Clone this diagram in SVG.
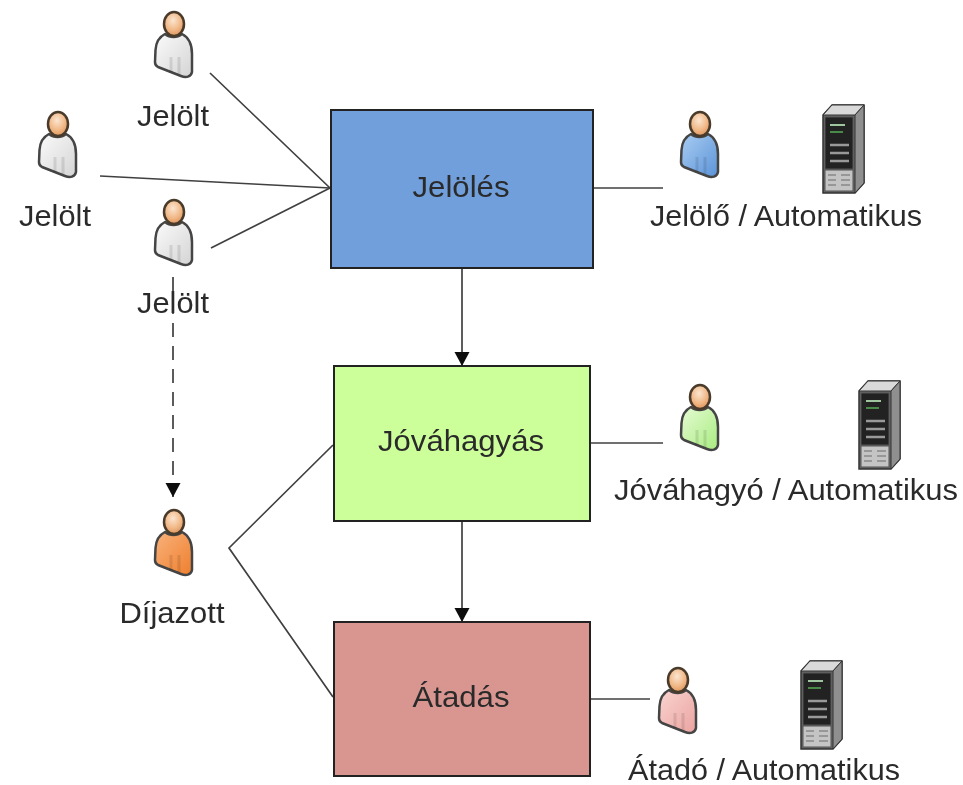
<svg xmlns="http://www.w3.org/2000/svg" width="963" height="785" viewBox="0 0 963 785">
<style>
text{font-family:"Liberation Sans",Arial,sans-serif;font-size:29px;fill:#2b2b2b;text-anchor:middle}
.box{stroke:#222;stroke-width:2}
.ln{stroke:#404040;stroke-width:1.700;fill:none}
</style>
<defs>
<filter id="soft" filterUnits="userSpaceOnUse" x="0" y="0" width="963" height="785"><feGaussianBlur stdDeviation="0.6"/></filter>
<marker id="ah" markerWidth="15" markerHeight="16" refX="14" refY="7.500" orient="auto" markerUnits="userSpaceOnUse"><path d="M0 0L14 7.500L0 15Z" fill="#111"/></marker>
<radialGradient id="head" cx="45%" cy="35%" r="70%"><stop offset="0" stop-color="#fbe6d0"/><stop offset=".6" stop-color="#f0b684"/><stop offset="1" stop-color="#d98f55"/></radialGradient>
<linearGradient id="g" x1="0" x2="1" y1="0" y2="1"><stop offset="0" stop-color="#fbfbfb"/><stop offset="1" stop-color="#d4d4d4"/></linearGradient>
<linearGradient id="b" x1="0" x2="1" y1="0" y2="1"><stop offset="0" stop-color="#a9cdf2"/><stop offset="1" stop-color="#5b93d8"/></linearGradient>
<linearGradient id="n" x1="0" x2="1" y1="0" y2="1"><stop offset="0" stop-color="#e6fbd4"/><stop offset="1" stop-color="#a8ec80"/></linearGradient>
<linearGradient id="o" x1="0" x2="1" y1="0" y2="1"><stop offset="0" stop-color="#f9b27c"/><stop offset="1" stop-color="#ee7f2e"/></linearGradient>
<linearGradient id="p" x1="0" x2="1" y1="0" y2="1"><stop offset="0" stop-color="#f9d4d0"/><stop offset="1" stop-color="#eba3a0"/></linearGradient>
<g id="person">
<path d="M-9 10C-15 13-18 18-18.500 26L-19 38C-19 41-18 42-16 43L7 52C12 54 17 53 18 48L18 30C18 20 14 13 8 10C3 14-4 14-9 10Z" stroke="#444" stroke-width="2.500" stroke-linejoin="round"/>
<path d="M-3 33L-3 48M5 33L5 50" stroke="#000" stroke-opacity=".1" stroke-width="3" fill="none"/>
<ellipse cx="0" cy="0" rx="10" ry="12" fill="url(#head)" stroke="#4a3a2c" stroke-width="2.500"/>
</g>
<g id="server">
<path d="M0 10L9 0L41 0L41 78L32 88L0 88Z" fill="#6a6a6a" stroke="#333" stroke-width="1.500"/>
<path d="M0 10L9 0L41 0L32 10Z" fill="#d9d9d9" stroke="#333" stroke-width="1"/>
<path d="M32 10L41 0L41 78L32 88Z" fill="#8f8f8f" stroke="#333" stroke-width="1"/>
<rect x="2" y="12" width="28" height="52" fill="#222" stroke="#555"/>
<path d="M7 20L22 20" stroke="#9ec59e" stroke-width="2"/><path d="M7 27L20 27" stroke="#4a8a4a" stroke-width="2"/>
<path d="M7 40L26 40M7 48L26 48M7 56L26 56" stroke="#999" stroke-width="2.500"/>
<rect x="2" y="65" width="28" height="21" fill="#c4c4c4" stroke="#555"/>
<path d="M5 70H13M18 70H27M5 75H13M18 75H27M5 80H13M18 80H27" stroke="#888" stroke-width="1.500"/>
</g>
</defs>
<rect width="963" height="785" fill="#fff"/>
<g filter="url(#soft)">
<g id="connectors">
<path class="ln" d="M210 73L330 188M100 176L330 188M211 248L330 188"/>
<path class="ln" d="M594 188H663M590 443H663M590 699H650"/>
<path class="ln" d="M333 445L229 548L333 697"/>
<path class="ln" d="M462 269V366" marker-end="url(#ah)"/>
<path class="ln" d="M462 521V622" marker-end="url(#ah)"/>
<path class="ln" d="M173 277V497" stroke-dasharray="14 9" marker-end="url(#ah)"/>
</g>
<g id="node-jeloles"><rect class="box" x="331" y="110" width="262" height="158" fill="#6f9fdc"/><text x="461" y="197" textLength="97" lengthAdjust="spacingAndGlyphs">Jelölés</text></g>
<g id="node-jovahagyas"><rect class="box" x="334" y="366" width="256" height="155" fill="#ccff99"/><text x="461" y="451" textLength="166" lengthAdjust="spacingAndGlyphs">Jóváhagyás</text></g>
<g id="node-atadas"><rect class="box" x="334" y="622" width="256" height="154" fill="#d99690"/><text x="461" y="707" textLength="97" lengthAdjust="spacingAndGlyphs">Átadás</text></g>
<g id="candidate-1"><use href="#person" x="174" y="24" fill="url(#g)"/><text x="173" y="126" textLength="72" lengthAdjust="spacingAndGlyphs">Jelölt</text></g>
<g id="candidate-2"><use href="#person" x="58" y="124" fill="url(#g)"/><text x="55" y="226" textLength="72" lengthAdjust="spacingAndGlyphs">Jelölt</text></g>
<g id="candidate-3"><use href="#person" x="174" y="212" fill="url(#g)"/><text x="173" y="313" textLength="72" lengthAdjust="spacingAndGlyphs">Jelölt</text></g>
<g id="awardee"><use href="#person" x="174" y="522" fill="url(#o)"/><text x="172" y="623" textLength="105" lengthAdjust="spacingAndGlyphs">Díjazott</text></g>
<g id="nominator"><use href="#person" x="700" y="124" fill="url(#b)"/><use href="#server" x="823" y="105"/><text x="786" y="226" textLength="272" lengthAdjust="spacingAndGlyphs">Jelölő / Automatikus</text></g>
<g id="approver"><use href="#person" x="700" y="397" fill="url(#n)"/><use href="#server" x="859" y="381"/><text x="786" y="500" textLength="344" lengthAdjust="spacingAndGlyphs">Jóváhagyó / Automatikus</text></g>
<g id="presenter"><use href="#person" x="678" y="680" fill="url(#p)"/><use href="#server" x="801" y="661"/><text x="764" y="780" textLength="272" lengthAdjust="spacingAndGlyphs">Átadó / Automatikus</text></g>
</g>
</svg>
